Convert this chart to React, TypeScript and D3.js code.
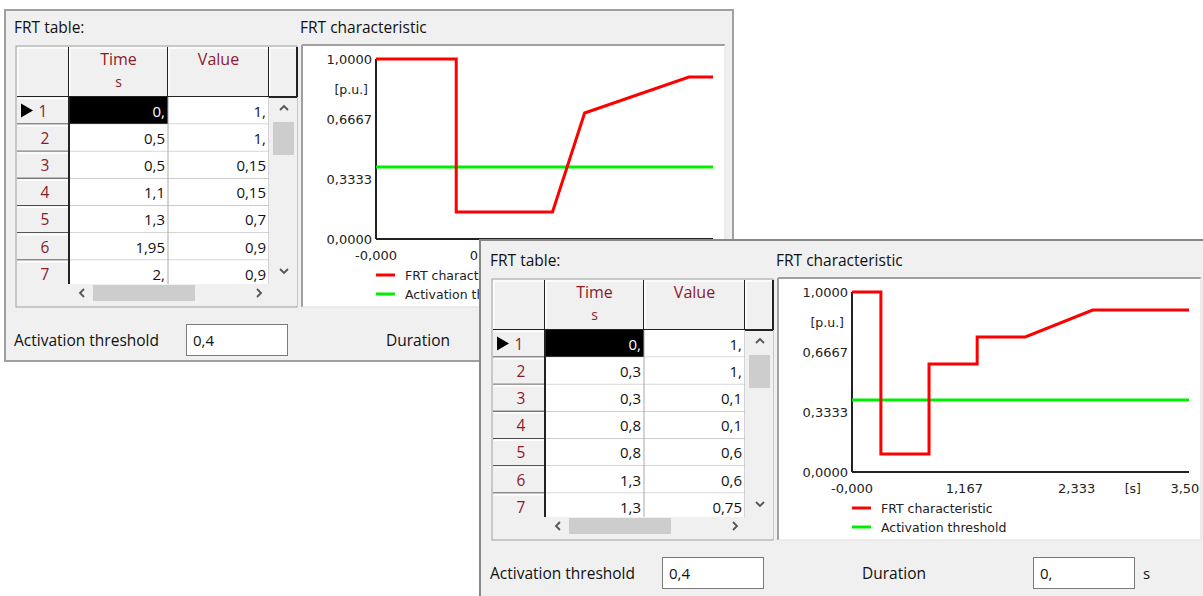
import React from 'react';
import * as d3 from 'd3';

// ---- data ----
const frt1Time = [0, 0.5, 0.5, 1.1, 1.3, 1.95, 2, 2.1];
const frt1Value = [1, 1, 0.15, 0.15, 0.7, 0.9, 0.9, 0.9];
const frt2Time = [0, 0.3, 0.3, 0.8, 0.8, 1.3, 1.3, 1.8, 2.5, 3.5];
const frt2Value = [1, 1, 0.1, 0.1, 0.6, 0.6, 0.75, 0.75, 0.9, 0.9];
const xMax1 = 2.1;
const xMax2 = 3.5;
const xTickLabels1 = ['-0,000', '0,700', '1,400', '2,100'];
const xTickLabels2 = ['-0,000', '1,167', '2,333', '3,500'];
const yTickValues = [0, 1 / 3, 2 / 3, 1];
const yTickLabels = ['0,0000', '0,3333', '0,6667', '1,0000'];
const activationThreshold = 0.4;
const thresholdText = '0,4';
const durationText = '0,';
const legendLabels = ['FRT characteristic', 'Activation threshold'];
const visibleRows = 7;

const UI = "'Open Sans', 'Noto Sans', sans-serif";
const CH = "'DejaVu Sans', sans-serif";
const DARKRED = '#8b1a2a';

function fmtCell(n: number) {
  return Number.isInteger(n) ? `${n},` : String(n).replace('.', ',');
}

function Chevron({ cx, cy, dir }: { cx: number; cy: number; dir: 'up' | 'down' | 'left' | 'right' }) {
  const s = 4;
  let d = '';
  if (dir === 'up') d = `M${cx - s},${cy + 2} L${cx},${cy - 2} L${cx + s},${cy + 2}`;
  if (dir === 'down') d = `M${cx - s},${cy - 2} L${cx},${cy + 2} L${cx + s},${cy - 2}`;
  if (dir === 'left') d = `M${cx + 2},${cy - s} L${cx - 2},${cy} L${cx + 2},${cy + s}`;
  if (dir === 'right') d = `M${cx - 2},${cy - s} L${cx + 2},${cy} L${cx - 2},${cy + s}`;
  return <path d={d} fill="none" stroke="#555" strokeWidth={1.8} />;
}

function Panel({ id, time, value, xMax, xLabels }: { id: string; time: number[]; value: number[]; xMax: number; xLabels: string[] }) {
  const x = d3.scaleLinear().domain([0, xMax]).range([376, 713]);
  const y = d3.scaleLinear().domain([0, 1]).range([239, 59]);
  const pts: [number, number][] = time.map((t, i) => [t, value[i]]);
  const line = d3.line<[number, number]>().x(d => x(d[0])).y(d => y(d[1]));
  const thr = line([[0, activationThreshold], [xMax, activationThreshold]]) || '';
  const xTicks = [0, xMax / 3, (2 * xMax) / 3, xMax];

  // table geometry
  const tL = 16, tT = 46, tR = 297, tB = 307;
  const c0 = 69, c1 = 168, c2 = 269;
  const hdrB = 97, rowH = 27.2, rowsB = 284;
  const rows = d3.range(visibleRows);

  return (
    <g>
      {/* labels */}
      <text x={14} y={27} fontFamily={UI} fontSize={15.5} fill="#111" dominantBaseline="central">FRT table:</text>
      <text x={300} y={27} fontFamily={UI} fontSize={15.5} fill="#111" dominantBaseline="central">FRT characteristic</text>

      {/* table */}
      <rect x={tL} y={tT} width={tR - tL} height={tB - tT} fill="#f0f0f0" stroke="#a0a0a0" strokeWidth={1} />
      <clipPath id={`rows-${id}`}>
        <rect x={tL} y={hdrB} width={c2 - tL} height={rowsB - hdrB} />
      </clipPath>
      {/* header cells */}
      {[[tL + 1, c0], [c0, c1], [c1, c2], [c2, tR]].map(([a, b], i) => (
        <g key={`h${i}`}>
          <rect x={a} y={tT + 1} width={b - a} height={hdrB - tT - 1} fill="#f0f0f0" />
          <line x1={a + 1} y1={tT + 2} x2={b - 1} y2={tT + 2} stroke="#fff" strokeWidth={1.5} />
          <line x1={a + 1} y1={tT + 2} x2={a + 1} y2={hdrB - 1} stroke="#fff" strokeWidth={1.5} />
          <line x1={b} y1={tT + 1} x2={b} y2={hdrB} stroke="#222" strokeWidth={2} />
        </g>
      ))}
      <line x1={tL + 1} y1={hdrB} x2={tR} y2={hdrB} stroke="#222" strokeWidth={2} />
      <text x={(c0 + c1) / 2} y={59} textAnchor="middle" fontFamily={UI} fontSize={16} fill={DARKRED} dominantBaseline="central">Time</text>
      <text x={(c0 + c1) / 2} y={81} textAnchor="middle" fontFamily={UI} fontSize={14} fill={DARKRED} dominantBaseline="central">s</text>
      <text x={(c1 + c2) / 2} y={59} textAnchor="middle" fontFamily={UI} fontSize={16} fill={DARKRED} dominantBaseline="central">Value</text>

      {/* rows */}
      <g clipPath={`url(#rows-${id})`}>
        {rows.map(i => {
          const top = hdrB + i * rowH;
          const cy = top + rowH / 2;
          return (
            <g key={`r${i}`}>
              <rect x={tL + 1} y={top} width={c0 - tL - 1} height={rowH} fill="#f0f0f0" />
              <line x1={tL + 2} y1={top + 1.5} x2={c0 - 1} y2={top + 1.5} stroke="#fff" strokeWidth={1.5} />
              <rect x={c0} y={top} width={c1 - c0} height={rowH} fill={i === 0 ? '#000' : '#fff'} />
              <rect x={c1} y={top} width={c2 - c1} height={rowH} fill="#fff" />
              <line x1={tL + 1} y1={top + rowH} x2={c0} y2={top + rowH} stroke="#222" strokeWidth={1.5} />
              <line x1={c0} y1={top + rowH} x2={c2} y2={top + rowH} stroke="#a8a8a8" strokeWidth={1} />
              {i === 0 && <path d={`M21,${cy - 7} L33,${cy} L21,${cy + 7} Z`} fill="#000" />}
              <text x={i === 0 ? 43 : 45} y={cy} textAnchor="middle" fontFamily={UI} fontSize={15.5} fill={DARKRED} dominantBaseline="central">{i + 1}</text>
              <text x={c1 - 3} y={cy} textAnchor="end" fontFamily={UI} fontSize={15} fill={i === 0 ? '#fff' : '#111'} dominantBaseline="central">{fmtCell(time[i])}</text>
              <text x={c2 - 3} y={cy} textAnchor="end" fontFamily={UI} fontSize={15} fill="#111" dominantBaseline="central">{fmtCell(value[i])}</text>
            </g>
          );
        })}
        <line x1={c0} y1={hdrB} x2={c0} y2={rowsB} stroke="#222" strokeWidth={2} />
        <line x1={c1} y1={hdrB} x2={c1} y2={rowsB} stroke="#a8a8a8" strokeWidth={1} />
        <line x1={c2} y1={hdrB} x2={c2} y2={rowsB} stroke="#a8a8a8" strokeWidth={1} />
      </g>
      {/* vertical scrollbar */}
      <rect x={c2 + 1} y={hdrB + 1} width={tR - c2 - 1} height={rowsB - hdrB - 1} fill="#f0f0f0" />
      <rect x={273} y={122} width={21} height={33} fill="#cdcdcd" />
      <Chevron cx={284} cy={108} dir="up" />
      <Chevron cx={284} cy={271} dir="down" />
      {/* horizontal scrollbar */}
      <rect x={tL + 1} y={rowsB} width={tR - tL - 1} height={tB - rowsB - 1} fill="#f0f0f0" />
      <rect x={93} y={285} width={102} height={16} fill="#cdcdcd" />
      <Chevron cx={82} cy={293} dir="left" />
      <Chevron cx={259} cy={293} dir="right" />

      {/* chart box */}
      <rect x={302} y={45} width={423} height={262} fill="#fff" />
      <line x1={302} y1={45} x2={725} y2={45} stroke="#a0a0a0" strokeWidth={2} />
      <line x1={302} y1={45} x2={302} y2={307} stroke="#a0a0a0" strokeWidth={2} />
      <line x1={725} y1={45} x2={725} y2={307} stroke="#e6e6e6" strokeWidth={1.5} />
      <line x1={302} y1={307} x2={725} y2={307} stroke="#e6e6e6" strokeWidth={1.5} />
      <clipPath id={`chart-${id}`}>
        <rect x={303} y={46} width={421} height={260} />
      </clipPath>
      <g clipPath={`url(#chart-${id})`}>
        {/* y labels */}
        {yTickValues.map((v, i) => (
          <text key={`yl${i}`} x={372} y={y(v)} textAnchor="end" fontFamily={CH} fontSize={13} fill="#222" dominantBaseline="central">{yTickLabels[i]}</text>
        ))}
        <text x={368} y={y(5 / 6)} textAnchor="end" fontFamily={CH} fontSize={12.5} fill="#222" dominantBaseline="central">[p.u.]</text>
        {/* x labels */}
        {xTicks.map((v, i) => (
          <text key={`xl${i}`} x={x(v)} y={255} textAnchor="middle" fontFamily={CH} fontSize={13} fill="#222" dominantBaseline="central">{xLabels[i]}</text>
        ))}
        <text x={x((5 * xMax) / 6)} y={255} textAnchor="middle" fontFamily={CH} fontSize={12.5} fill="#222" dominantBaseline="central">[s]</text>
        {/* axes */}
        <line x1={x(0)} y1={y(1)} x2={x(0)} y2={y(0)} stroke="#222" strokeWidth={2} />
        <line x1={x(0)} y1={y(0)} x2={x(xMax)} y2={y(0)} stroke="#222" strokeWidth={2} />
        {/* series */}
        <path d={thr} fill="none" stroke="#00ee00" strokeWidth={3} />
        <path d={line(pts) || ''} fill="none" stroke="#ff0000" strokeWidth={3} strokeLinejoin="miter" />
        {/* legend */}
        <line x1={376} y1={275} x2={395} y2={275} stroke="#ff0000" strokeWidth={3} />
        <text x={405} y={275} fontFamily={CH} fontSize={12.5} fill="#222" dominantBaseline="central">{legendLabels[0]}</text>
        <line x1={376} y1={294} x2={395} y2={294} stroke="#00ee00" strokeWidth={3} />
        <text x={405} y={294} fontFamily={CH} fontSize={12.5} fill="#222" dominantBaseline="central">{legendLabels[1]}</text>
      </g>

      {/* bottom fields */}
      <text x={14} y={340} fontFamily={UI} fontSize={15.5} fill="#111" dominantBaseline="central">Activation threshold</text>
      <rect x={186.5} y={324.5} width={101} height={31} fill="#fff" stroke="#7a7a7a" strokeWidth={1} />
      <text x={193} y={340} fontFamily={UI} fontSize={15} fill="#111" dominantBaseline="central">{thresholdText}</text>
      <text x={386} y={340} fontFamily={UI} fontSize={15.5} fill="#111" dominantBaseline="central">Duration</text>
      <rect x={557.5} y={324.5} width={101} height={31} fill="#fff" stroke="#7a7a7a" strokeWidth={1} />
      <text x={564} y={340} fontFamily={UI} fontSize={15} fill="#111" dominantBaseline="central">{durationText}</text>
      <text x={667} y={340} fontFamily={UI} fontSize={15} fill="#111" dominantBaseline="central">s</text>
    </g>
  );
}

export default function App() {
  return (
    <svg width={1203} height={596} style={{ position: 'absolute', left: 0, top: 0, background: '#fff' }}>
      <rect x={0} y={0} width={1203} height={596} fill="#fff" />
      {/* window 1 */}
      <rect x={5} y={10} width={728} height={351} fill="#f0f0f0" stroke="#a0a0a0" strokeWidth={2} />
      <Panel id="w1" time={frt1Time} value={frt1Value} xMax={xMax1} xLabels={xTickLabels1} />
      {/* window 2 */}
      <rect x={480} y={240} width={740} height={370} fill="#f0f0f0" stroke="#888" strokeWidth={2} />
      <g transform="translate(476,233)">
        <Panel id="w2" time={frt2Time} value={frt2Value} xMax={xMax2} xLabels={xTickLabels2} />
      </g>
    </svg>
  );
}
